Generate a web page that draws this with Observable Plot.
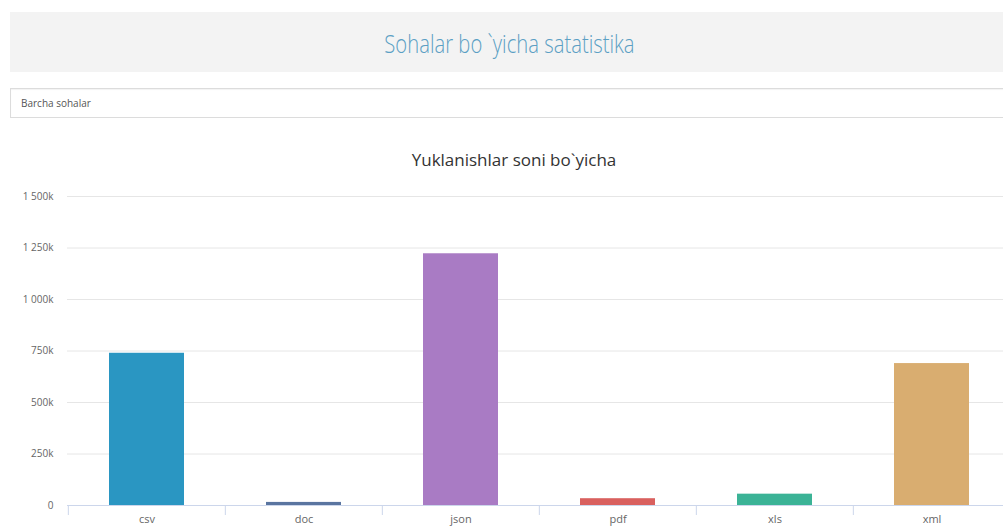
<!DOCTYPE html>
<html>
<head>
<meta charset="utf-8">
<script src="https://cdn.jsdelivr.net/npm/d3@7"></script>
<script src="https://cdn.jsdelivr.net/npm/@observablehq/plot@0.6"></script>
<style>
  html, body { margin: 0; padding: 0; background: #fff; overflow: hidden; width: 1003px; height: 527px; }
  body { position: relative; font-family: "Open Sans", sans-serif; }
  #banner { position: absolute; left: 10px; top: 12px; width: 1000px; height: 60px; background: #f3f3f3; }
  #banner span { position: absolute; left: 0; width: 1000px; top: 14px; text-align: center; font-size: 25px; font-weight: 300; color: #5b9fc4; transform: scaleX(0.81); transform-origin: 497px 0; white-space: nowrap; }
  #select { position: absolute; left: 10px; top: 88px; width: 1000px; height: 28px; border: 1px solid #dcdcdc; box-shadow: inset 0 1px 1px rgba(0,0,0,0.05); background: #fff; }
  #select span { position: absolute; left: 10px; top: 7px; font-size: 10px; color: #555; }
  #title { position: absolute; left: 0; width: 1028px; top: 148px; text-align: center; font-size: 17px; color: #333; }
  #chart { position: absolute; left: 0; top: 180px; width: 1011px; }
  #chart svg { max-width: none !important; }
</style>
</head>
<body>
<div id="banner"><span>Sohalar bo `yicha satatistika</span></div>
<div id="select"><span>Barcha sohalar</span></div>
<div id="title">Yuklanishlar soni bo`yicha</div>
<div id="chart"></div>
<script>
const categories = ["csv", "doc", "json", "pdf", "xls", "xml"];
const values = [739000, 15000, 1222000, 33000, 55000, 689000];
const colors = ["#2a96c2", "#5a75a0", "#a97bc4", "#d9605e", "#3bb396", "#d9ad70"];
const yTicks = [0, 250000, 500000, 750000, 1000000, 1250000, 1500000];

const data = categories.map((c, i) => ({cat: c, value: values[i]}));

const W = 1011, mL = 67, mR = 0;
const step = (W - mL - mR) / categories.length;
const loc = d3.formatLocale({decimal: ".", thousands: " ", grouping: [3], currency: ["", ""]});
const fmtK = d => d === 0 ? "0" : loc.format(",")(d / 1000) + "k";

const chart = Plot.plot({
  width: W,
  height: 347,
  marginLeft: mL,
  marginRight: mR,
  marginTop: 16,
  marginBottom: 22,
  style: {fontFamily: "Open Sans, sans-serif", fontSize: "10px", color: "#666", background: "transparent"},
  x: {domain: categories, paddingInner: 0.52, paddingOuter: 0.26, axis: null},
  y: {domain: [0, 1500000], axis: null},
  color: {domain: categories, range: colors},
  marks: [
    Plot.ruleY(yTicks, {stroke: "#e6e6e6", strokeWidth: 1}),
    Plot.barY(data, {x: "cat", y: "value", fill: "cat"}),
    Plot.ruleY([0], {stroke: "#ccd6eb", strokeWidth: 1}),
    Plot.ruleX(categories, {x: d => d, y1: 0, y2: 0, insetBottom: -10, dx: -step / 2, stroke: "#ccd6eb"}),
    Plot.axisY(yTicks, {tickSize: 0, tickPadding: 14, tickFormat: fmtK, fill: "#666", fontSize: 10, label: null}),
    Plot.axisX({tickSize: 0, tickPadding: 10, fill: "#666", fontSize: 11, label: null})
  ]
});
chart.style.maxWidth = "none";
document.getElementById("chart").appendChild(chart);
</script>
</body>
</html>
